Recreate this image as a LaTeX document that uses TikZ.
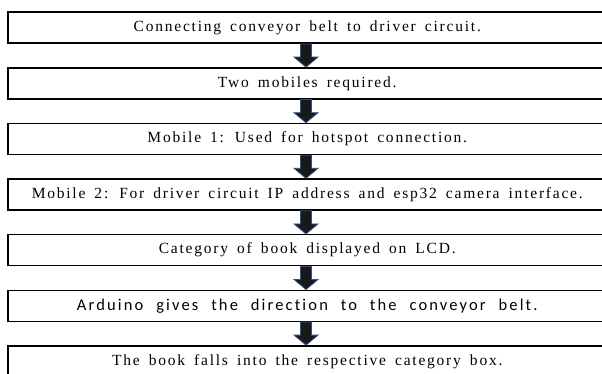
\documentclass[tikz,border=0pt]{standalone}
\usepackage{fontspec}
\setmainfont{Liberation Serif}[LetterSpace=11.5,WordSpace=1.6]
\newfontfamily\calfont{Carlito}[LetterSpace=13,WordSpace=2.2,Ligatures=NoCommon]
\usetikzlibrary{calc}

\definecolor{arrowblue}{RGB}{47,82,143}
\tikzset{
  stepbox/.style={draw, line width=1.5pt, minimum width=599pt, minimum height=31pt,
    inner sep=0pt, anchor=north west, font=\fontsize{15.5}{17}\selectfont},
  blockarrow/.style={fill=black!90, draw=arrowblue, line width=0.8pt, line join=miter}
}

\begin{document}
\begin{tikzpicture}[x=1pt,y=1pt]
    \useasboundingbox (0,0) rectangle (602,-374);
    \clip (0,0) rectangle (602,-374);
    \fill[white] (0,0) rectangle (602,-374);
    \coordinate (ax) at (306,0);
    % the steps
    \node[stepbox] (s1) at (7,-11.5) {Connecting conveyor belt to driver circuit.};
    \node[stepbox] (s2) at (7,-67.1) {Two mobiles required.};
    \node[stepbox] (s3) at (7,-122.7) {Mobile 1: Used for hotspot connection.};
    \node[stepbox] (s4) at (7,-178.3) {Mobile 2: For driver circuit IP address and esp32 camera interface.};
    \node[stepbox] (s5) at (7,-233.9) {Category of book displayed on LCD.};
    \node[stepbox, font=\calfont\fontsize{16.5}{18}\selectfont] (s6) at (7,-289.5) {Arduino gives the direction to the conveyor belt.};
    \node[stepbox] (s7) at (7,-345.1) {The book falls into the respective category box.};
    % block arrows between steps
    \foreach \a/\b in {s1/s2,s2/s3,s3/s4,s4/s5,s5/s6,s6/s7}
      \draw[blockarrow] ($(\a.south -| ax)+(-5.5,0)$) -- ($(\b.north -| ax)+(-5.5,10)$)
        -- ++(-6.5,0) -- (\b.north -| ax) -- ++(12,10) -- ++(-6.5,0)
        -- ($(\a.south -| ax)+(5.5,0)$) -- cycle;
\end{tikzpicture}
\end{document}
